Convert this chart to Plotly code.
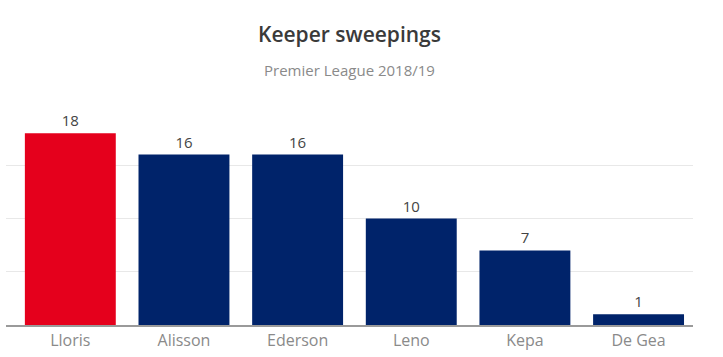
import plotly.graph_objects as go

players = ["Lloris", "Alisson", "Ederson", "Leno", "Kepa", "De Gea"]
sweepings = [18, 16, 16, 10, 7, 1]
bar_colors = ["#E5001C", "#00236A", "#00236A", "#00236A", "#00236A", "#00236A"]
grid_vals = [5, 10, 15]

fig = go.Figure(go.Bar(
    x=players,
    y=sweepings,
    marker=dict(color=bar_colors, line=dict(width=0)),
    text=[str(v) for v in sweepings],
    textposition="outside",
    textfont=dict(family="Open Sans", size=15, color="#444444"),
    cliponaxis=False,
))

fig.update_layout(
    width=723, height=357,
    margin=dict(l=6, r=30, t=112, b=30),
    paper_bgcolor="white", plot_bgcolor="white",
    bargap=0.2,
    showlegend=False,
    xaxis=dict(
        range=[-0.566, 5.479],
        showline=True, linecolor="#9a9a9a", linewidth=1.5,
        ticks="", showgrid=False,
        tickfont=dict(family="Open Sans", size=16, color="#8a8a8a"),
    ),
    yaxis=dict(
        range=[0, 20],
        tickvals=grid_vals,
        showticklabels=False,
        showgrid=True, gridcolor="#e8e8e8", gridwidth=1,
        zeroline=False,
    ),
    annotations=[
        dict(text="Keeper sweepings", xref="paper", yref="paper", x=0.5, y=1.368,
             xanchor="center", yanchor="middle", showarrow=False,
             font=dict(family="Open Sans", size=21, color="#3a3a3a", weight=600)),
        dict(text="Premier League 2018/19", xref="paper", yref="paper", x=0.5, y=1.196,
             xanchor="center", yanchor="middle", showarrow=False,
             font=dict(family="Open Sans", size=15, color="#8a8a8a")),
    ],
)

fig.write_html(
    "out.html",
    config={"displayModeBar": False},
    post_script="document.body.style.margin='0px';document.body.style.overflow='hidden';",
)
